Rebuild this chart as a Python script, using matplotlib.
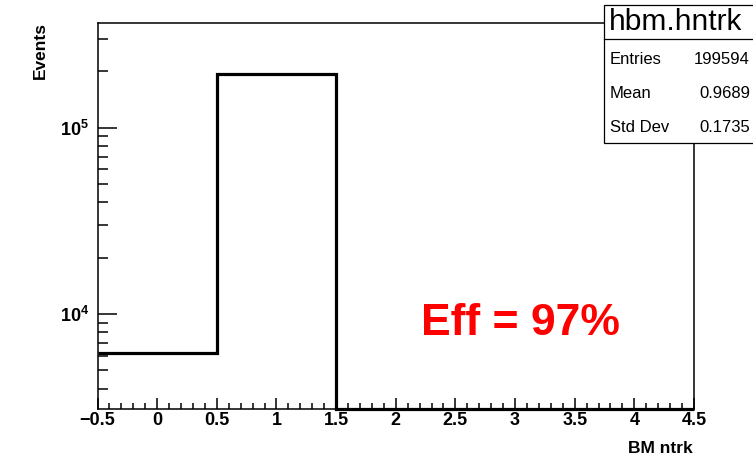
import numpy as np
import matplotlib
matplotlib.use("Agg")
import matplotlib.pyplot as plt
from matplotlib.patches import Rectangle
from matplotlib.lines import Line2D
from matplotlib.ticker import MultipleLocator, LogLocator, NullFormatter, FixedLocator, FixedFormatter

plt.rcParams['font.family'] = ['Liberation Sans', 'DejaVu Sans']
plt.rcParams['mathtext.fontset'] = 'custom'
plt.rcParams['mathtext.rm'] = 'Liberation Sans'
plt.rcParams['mathtext.bf'] = 'Liberation Sans:bold'

# histogram contents: BM ntrk, 5 bins from -0.5 to 4.5
bin_edges = [-0.5, 0.5, 1.5, 2.5, 3.5, 4.5]
bin_centers = [0, 1, 2, 3, 4]
counts = [6202, 193392, 0, 0, 0]
hist_name = "hbm.hntrk"
x_title = "BM ntrk"
y_title = "Events"
eff_text = "Eff = 97%"
y_range = (3108, 365000)

counts_arr = np.array(counts, dtype=float)
centers = np.array(bin_centers, dtype=float)
n_entries = int(counts_arr.sum())
mean = (counts_arr * centers).sum() / n_entries
std = np.sqrt((counts_arr * (centers - mean) ** 2).sum() / n_entries)

W, H = 753, 455
fig = plt.figure(figsize=(W / 100, H / 100), dpi=100)
left, right, top, bottom = 97.5, 694, 22.7, 409
ax = fig.add_axes([left / W, 1 - bottom / H, (right - left) / W, (bottom - top) / H])

ax.set_yscale('log')
ax.set_xlim(bin_edges[0], bin_edges[-1])
ax.set_ylim(*y_range)

# empty bins sit on the lower edge of the frame, as in ROOT
shown = np.maximum(counts_arr, y_range[0])
ax.stairs(shown, bin_edges, baseline=None, color='black', lw=2.3, clip_on=False, zorder=3)

for s in ax.spines.values():
    s.set_linewidth(1.1)

ax.xaxis.set_major_locator(MultipleLocator(0.5))
ax.xaxis.set_minor_locator(MultipleLocator(0.1))
ax.xaxis.set_major_formatter(plt.FuncFormatter(lambda v, p: f"{v:g}".replace('-', '\u2212')))
ax.yaxis.set_major_locator(FixedLocator([1e4, 1e5]))
ax.yaxis.set_major_formatter(FixedFormatter([r'$\mathbf{10^{4}}$', r'$\mathbf{10^{5}}$']))
ax.yaxis.set_minor_locator(LogLocator(base=10, subs=np.arange(2, 10)))
ax.yaxis.set_minor_formatter(NullFormatter())

ax.tick_params(axis='x', which='major', direction='in', length=8, width=1.1, pad=2.5, labelsize=13)
ax.tick_params(axis='x', which='minor', direction='in', length=4, width=1.1)
ax.tick_params(axis='y', which='major', direction='in', length=13.5, width=1.1, pad=6, labelsize=13)
ax.tick_params(axis='y', which='minor', direction='in', length=7, width=1.1)
for lab in ax.get_xticklabels():
    lab.set_fontweight('bold')

fig.text(40.5 / W, 1 - 22 / H, y_title, rotation=90, ha='center', va='top',
         fontsize=12.5, fontweight='bold')
fig.text(693 / W, 1 - 453 / H, x_title, ha='right', va='baseline',
         fontsize=12.5, fontweight='bold')

# statistics box
bx0, bx1, by0, by1, bsep = 604, 760, 5, 143, 39
box = Rectangle((bx0 / W, 1 - by1 / H), (bx1 - bx0) / W, (by1 - by0) / H,
                transform=fig.transFigure, facecolor='white', edgecolor='black',
                lw=0.9, zorder=10)
fig.patches.append(box)
fig.lines.append(Line2D([bx0 / W, bx1 / W], [1 - bsep / H, 1 - bsep / H],
                        transform=fig.transFigure, color='black', lw=0.9, zorder=11))
fig.text(676 / W, 1 - 22 / H, hist_name, ha='center', va='center', fontsize=21.5, zorder=12)
rows = [("Entries", f"{n_entries}"), ("Mean", f"{mean:.4f}"), ("Std Dev", f"{std:.4f}")]
for (name, val), yc in zip(rows, [60, 93, 127]):
    fig.text(610 / W, 1 - yc / H, name, ha='left', va='center', fontsize=12, zorder=12)
    fig.text(750 / W, 1 - yc / H, val, ha='right', va='center', fontsize=12, zorder=12)

fig.text(421 / W, 1 - 335 / H, eff_text, ha='left', va='baseline', color='#ff0000',
         fontsize=32, fontweight='bold')

fig.savefig('out.png', dpi=100)
